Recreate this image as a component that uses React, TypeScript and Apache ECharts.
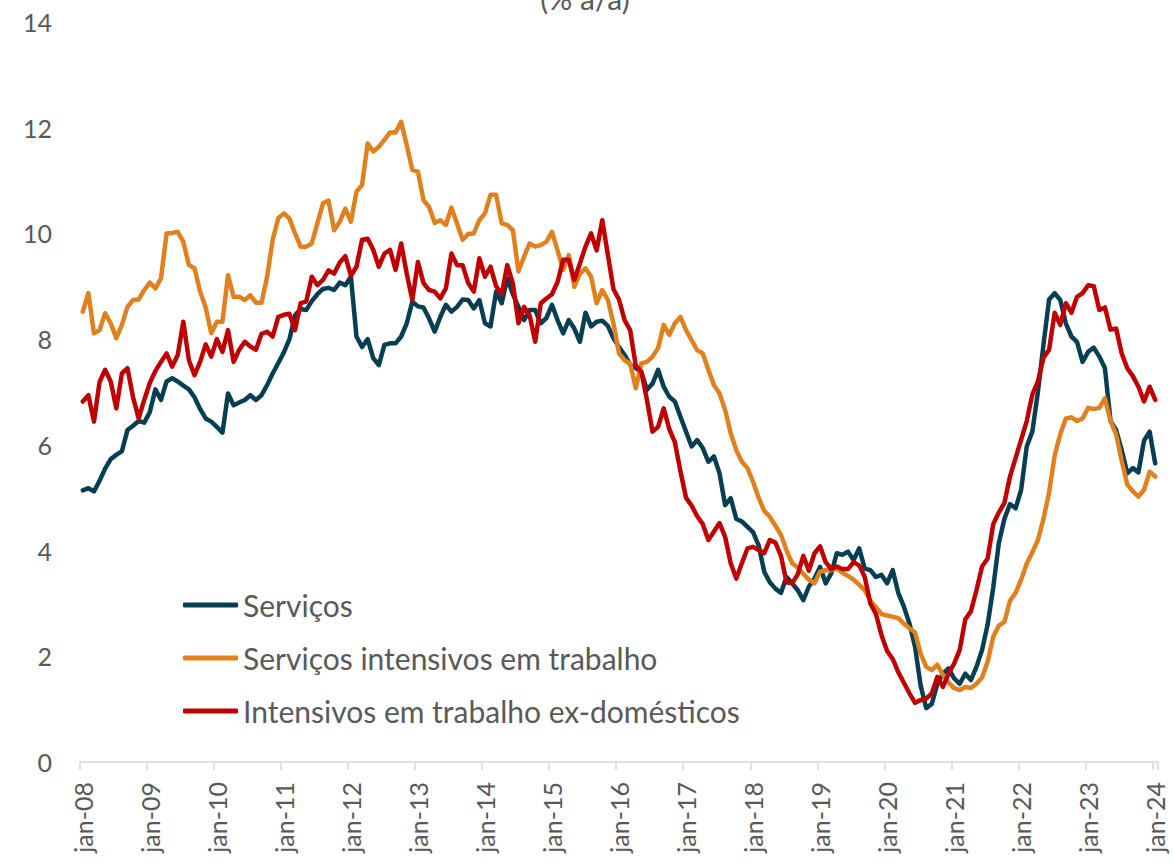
import React, { useEffect, useRef } from "react";
import * as echarts from "echarts";

const MONTH_NAMES = ["jan", "fev", "mar", "abr", "mai", "jun", "jul", "ago", "set", "out", "nov", "dez"];
const START_YEAR = 2008;

const TITLE = "(% a/a)";
const SERIES_NAMES = ["Serviços", "Serviços intensivos em trabalho", "Intensivos em trabalho ex-domésticos"];
const SERIES_COLORS = ["#063F52", "#E0801F", "#C00000"];

// Serviços (monthly, jan-08 .. jan-24)
const servicos = [
  5.14, 5.18, 5.12, 5.32, 5.55, 5.73, 5.81, 5.88, 6.28, 6.36, 6.45, 6.42,
  6.62, 7.05, 6.85, 7.2, 7.26, 7.2, 7.12, 7.05, 6.9, 6.68, 6.5, 6.44,
  6.34, 6.23, 6.97, 6.75, 6.8, 6.85, 6.94, 6.85, 6.94, 7.13, 7.35, 7.55,
  7.75, 8.0, 8.45, 8.57, 8.55, 8.72, 8.85, 8.95, 8.97, 8.93, 9.07, 9.02,
  9.18, 8.05, 7.85, 8.0, 7.64, 7.51, 7.89, 7.92, 7.92, 8.05, 8.3, 8.71,
  8.62, 8.6, 8.39, 8.14, 8.42, 8.65, 8.52, 8.61, 8.75, 8.74, 8.58, 8.74,
  8.3, 8.24, 8.9, 8.68, 9.15, 8.85, 8.61, 8.36, 8.55, 8.55, 8.3, 8.4,
  8.65, 8.36, 8.11, 8.36, 8.2, 7.95, 8.5, 8.24, 8.33, 8.35, 8.25, 8.02,
  7.85, 7.7, 7.52, 7.45, 7.38, 7.04, 7.16, 7.42, 7.1, 6.91, 6.82, 6.53,
  6.25, 5.97, 6.09, 5.94, 5.68, 5.78, 5.46, 4.86, 4.99, 4.6, 4.55, 4.45,
  4.35, 4.1, 3.6, 3.4, 3.28, 3.2, 3.5, 3.38, 3.25, 3.06, 3.32, 3.47,
  3.69, 3.38, 3.57, 3.95, 3.92, 3.98, 3.82, 4.04, 3.66, 3.63, 3.5, 3.54,
  3.38, 3.63, 3.2, 2.94, 2.62, 2.18, 1.45, 1.02, 1.1, 1.48, 1.67, 1.77,
  1.58, 1.48, 1.67, 1.55, 1.8, 2.12, 2.6, 3.3, 4.14, 4.6, 4.88, 4.8,
  5.15, 5.97, 6.25, 7.0, 7.9, 8.75, 8.87, 8.74, 8.3, 8.05, 7.95, 7.57,
  7.76, 7.84, 7.67, 7.45, 6.45, 6.28, 5.9, 5.46, 5.56, 5.48, 6.08, 6.25,
  5.65,
];

// Serviços intensivos em trabalho
const intensivos = [
  8.52, 8.87, 8.11, 8.17, 8.49, 8.3, 8.02, 8.27, 8.61, 8.74, 8.75, 8.93,
  9.07, 8.96, 9.15, 10.0, 10.01, 10.03, 9.84, 9.4, 9.34, 8.9, 8.6, 8.11,
  8.33, 8.33, 9.21, 8.8, 8.8, 8.74, 8.83, 8.69, 8.69, 9.18, 9.88, 10.29,
  10.38, 10.28, 10.0, 9.75, 9.75, 9.81, 10.19, 10.57, 10.62, 10.06, 10.22, 10.47,
  10.22, 10.79, 10.92, 11.7, 11.55, 11.64, 11.77, 11.91, 11.91, 12.11, 11.67, 11.2,
  11.17, 10.63, 10.5, 10.2, 10.25, 10.16, 10.49, 10.19, 9.88, 9.99, 10.0, 10.25,
  10.38, 10.73, 10.73, 10.19, 10.16, 10.06, 9.28, 9.56, 9.81, 9.75, 9.78, 9.84,
  10.03, 9.68, 9.31, 9.59, 8.99, 9.24, 9.34, 9.18, 8.68, 8.93, 8.74, 8.3,
  7.73, 7.6, 7.54, 7.07, 7.54, 7.57, 7.67, 7.83, 8.27, 8.08, 8.3, 8.42,
  8.17, 7.98, 7.79, 7.73, 7.42, 7.13, 6.97, 6.66, 6.22, 5.9, 5.68, 5.56,
  5.3, 5.0, 4.75, 4.64, 4.47, 4.3, 4.0, 3.76, 3.68, 3.56, 3.45, 3.38,
  3.6, 3.63, 3.63, 3.66, 3.58, 3.52, 3.45, 3.35, 3.25, 3.05, 2.93, 2.8,
  2.77, 2.75, 2.72, 2.62, 2.53, 2.45, 2.05, 1.8, 1.74, 1.84, 1.65, 1.5,
  1.4, 1.36, 1.42, 1.4, 1.48, 1.6, 1.9, 2.37, 2.58, 2.65, 3.05, 3.2,
  3.45, 3.75, 3.97, 4.2, 4.6, 5.1, 5.8, 6.2, 6.5, 6.52, 6.45, 6.5,
  6.7, 6.68, 6.7, 6.88, 6.45, 6.2, 5.7, 5.25, 5.12, 5.02, 5.15, 5.49,
  5.4,
];

// Intensivos em trabalho ex-domésticos
const exDomesticos = [
  6.82, 6.94, 6.44, 7.19, 7.42, 7.2, 6.69, 7.35, 7.45, 6.9, 6.5, 6.85,
  7.17, 7.4, 7.57, 7.73, 7.48, 7.7, 8.33, 7.6, 7.32, 7.57, 7.9, 7.67,
  8.0, 7.76, 8.17, 7.57, 7.8, 7.95, 7.86, 7.8, 8.1, 8.14, 8.05, 8.42,
  8.46, 8.48, 8.17, 8.68, 8.71, 9.18, 9.02, 9.12, 9.3, 9.24, 9.45, 9.57,
  9.2, 9.37, 9.88, 9.9, 9.69, 9.37, 9.62, 9.69, 9.31, 9.81, 9.24, 8.74,
  9.46, 9.06, 8.93, 8.9, 8.77, 8.96, 9.62, 9.4, 9.4, 9.06, 8.9, 9.53,
  9.18, 9.37, 9.0, 8.85, 9.4, 9.05, 8.3, 8.61, 8.45, 7.95, 8.68, 8.77,
  8.85, 9.08, 9.5, 9.5, 9.12, 9.43, 9.75, 10.0, 9.68, 10.25, 9.6, 8.95,
  8.75, 8.36, 8.17, 7.5, 7.38, 6.85, 6.25, 6.34, 6.69, 6.3, 6.05, 5.5,
  5.0, 4.85, 4.65, 4.5, 4.2, 4.36, 4.52, 4.26, 3.76, 3.47, 3.76, 4.04,
  4.07, 4.01, 3.95, 4.2, 4.15, 3.9, 3.4, 3.38, 3.55, 3.9, 3.62, 3.95,
  4.08, 3.78, 3.65, 3.7, 3.65, 3.65, 3.78, 3.72, 3.5, 3.0, 2.8, 2.4,
  2.1, 1.95, 1.7, 1.5, 1.3, 1.12, 1.17, 1.2, 1.3, 1.61, 1.42, 1.67,
  1.86, 2.12, 2.7, 2.85, 3.25, 3.7, 3.85, 4.5, 4.72, 4.9, 5.4, 5.75,
  6.1, 6.45, 6.95, 7.2, 7.65, 7.8, 8.5, 8.27, 8.68, 8.5, 8.8, 8.87,
  9.02, 9.0, 8.55, 8.6, 8.18, 8.2, 7.73, 7.45, 7.3, 7.1, 6.82, 7.1,
  6.85,
];

const Y_MIN = 0;
const Y_MAX = 14;
const Y_INTERVAL = 2;

const categories = servicos.map((_, i) => {
  const yy = String((START_YEAR + Math.floor(i / 12)) % 100).padStart(2, "0");
  return `${MONTH_NAMES[i % 12]}-${yy}`;
});

const FONT = "Lato";
const TEXT_COLOR = "#595959";

export default function App() {
  const ref = useRef<HTMLDivElement>(null);

  useEffect(() => {
    if (!ref.current) return;
    const chart = echarts.init(ref.current, undefined, { renderer: "svg" });
    const seriesData = [servicos, intensivos, exDomesticos];
    chart.setOption({
      animation: false,
      backgroundColor: "#ffffff",
      grid: { left: 80, right: 15, top: 22, bottom: 104 },
      graphic: [
        {
          type: "text",
          x: 585,
          y: -2,
          style: {
            text: TITLE,
            fontSize: 30,
            fontFamily: FONT,
            fill: TEXT_COLOR,
            align: "center",
            verticalAlign: "middle",
          },
        },
      ],
      legend: {
        data: SERIES_NAMES,
        orient: "vertical",
        left: 183,
        top: 590,
        padding: 0,
        itemWidth: 55,
        itemHeight: 5,
        itemGap: 23,
        icon: "roundRect",
        textStyle: { fontSize: 30, fontFamily: FONT, color: TEXT_COLOR, lineHeight: 30 },
      },
      xAxis: {
        type: "category",
        data: categories,
        boundaryGap: true,
        axisLine: { show: true, lineStyle: { color: "#D9D9D9", width: 1.5 } },
        axisTick: { show: true, interval: 11, length: 8, lineStyle: { color: "#D9D9D9", width: 1.5 } },
        axisLabel: {
          interval: 11,
          rotate: 90,
          margin: 20,
          fontSize: 25,
          fontFamily: FONT,
          color: TEXT_COLOR,
        },
        splitLine: { show: false },
      },
      yAxis: {
        type: "value",
        min: Y_MIN,
        max: Y_MAX,
        interval: Y_INTERVAL,
        axisLine: { show: false },
        axisTick: { show: false },
        splitLine: { show: false },
        axisLabel: { fontSize: 25, fontFamily: FONT, color: TEXT_COLOR, margin: 28 },
      },
      series: SERIES_NAMES.map((name, k) => ({
        name,
        type: "line",
        data: seriesData[k],
        showSymbol: false,
        symbol: "none",
        smooth: false,
        color: SERIES_COLORS[k],
        lineStyle: { width: 4.5, color: SERIES_COLORS[k], join: "round", cap: "round" },
      })),
    });
    return () => chart.dispose();
  }, []);

  return (
    <div
      ref={ref}
      style={{ position: "absolute", left: 0, top: 0, width: 1173, height: 866, background: "#fff" }}
    />
  );
}
